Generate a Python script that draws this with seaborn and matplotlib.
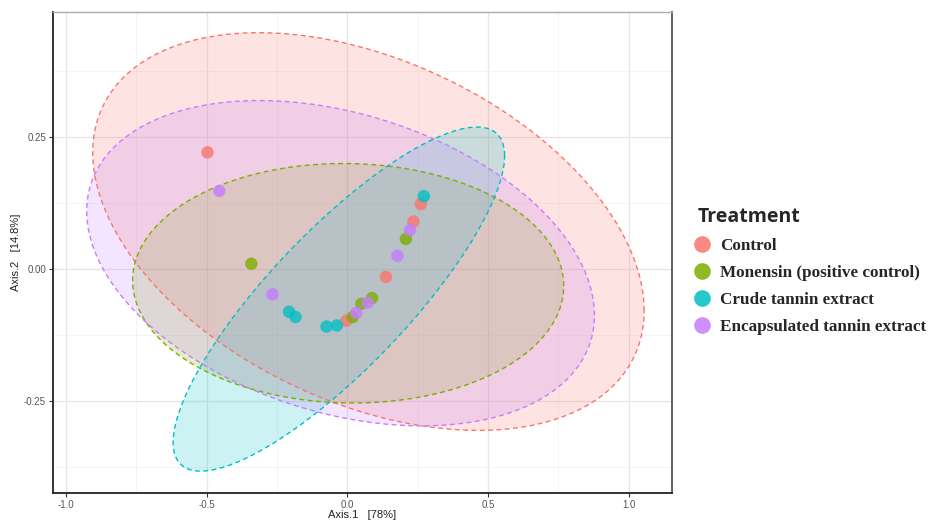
import numpy as np
import pandas as pd
import seaborn as sns
import matplotlib.pyplot as plt
from matplotlib.lines import Line2D
from matplotlib.ticker import MultipleLocator, FormatStrFormatter

# DATA
groups = ['Control', 'Monensin (positive control)', 'Crude tannin extract', 'Encapsulated tannin extract']
colors = ['#F8766D', '#7CAE00', '#00BFC4', '#C77CFF']

control_x = [-0.497, -0.004, 0.137, 0.235, 0.261]
control_y = [0.221, -0.098, -0.015, 0.090, 0.123]
monensin_x = [-0.341, 0.019, 0.050, 0.088, 0.208]
monensin_y = [0.010, -0.091, -0.066, -0.055, 0.057]
crude_x = [-0.207, -0.184, -0.074, -0.037, 0.272]
crude_y = [-0.081, -0.091, -0.109, -0.107, 0.138]
encap_x = [-0.455, -0.266, 0.032, 0.072, 0.178, 0.223]
encap_y = [0.148, -0.048, -0.083, -0.064, 0.025, 0.074]

# ellipse centres and spread (covariance-like) per group
# order: Control, Monensin, Crude, Encapsulated
ell_cx = [0.075, 0.003, -0.030, -0.024]
ell_cy = [0.071, -0.027, -0.057, 0.011]
ell_sxx = [0.960, 0.587, 0.347, 0.814]
ell_syy = [0.142, 0.0515, 0.1063, 0.095]
ell_sxy = [-0.147, -0.004, 0.160, -0.089]

xs = [control_x, monensin_x, crude_x, encap_x]
ys = [control_y, monensin_y, crude_y, encap_y]
df = pd.DataFrame({
    'Axis.1': np.concatenate(xs),
    'Axis.2': np.concatenate(ys),
    'Treatment': np.repeat(groups, [len(v) for v in xs]),
})

sns.set_style('white')
plt.rcParams['font.family'] = ['Liberation Sans', 'DejaVu Sans']
fig = plt.figure(figsize=(9.33, 5.22), dpi=100)
ax = fig.add_axes([0.0568, 0.055, 0.6632, 0.922])

# ellipses
t = np.linspace(0, 2 * np.pi, 300)
for i, c in enumerate(colors):
    S = np.array([[ell_sxx[i], ell_sxy[i]], [ell_sxy[i], ell_syy[i]]])
    L = np.linalg.cholesky(S)
    pts = (L @ np.vstack([np.cos(t), np.sin(t)])).T + [ell_cx[i], ell_cy[i]]
    ax.fill(pts[:, 0], pts[:, 1], color=c, alpha=0.2, lw=0, zorder=1)
    ax.plot(pts[:, 0], pts[:, 1], color=c, lw=1.0, ls=(0, (3.5, 2.5)), zorder=2)

sns.scatterplot(data=df, x='Axis.1', y='Axis.2', hue='Treatment', hue_order=groups,
                palette=colors, s=80, alpha=0.8, edgecolor='none', legend=False,
                ax=ax, zorder=3)

ax.set_xlim(-1.046, 1.153)
ax.set_ylim(-0.425, 0.487)
ax.xaxis.set_major_locator(MultipleLocator(0.5))
ax.xaxis.set_minor_locator(MultipleLocator(0.25))
ax.yaxis.set_major_locator(MultipleLocator(0.25))
ax.yaxis.set_minor_locator(MultipleLocator(0.125))
ax.xaxis.set_major_formatter(FormatStrFormatter('%.1f'))
ax.yaxis.set_major_formatter(FormatStrFormatter('%.2f'))
ax.grid(which='major', color='#E6E6E6', lw=0.9, zorder=0)
ax.grid(which='minor', color='#F2F2F2', lw=0.6, zorder=0)
ax.set_axisbelow(True)
ax.tick_params(which='major', length=3, width=0.8, color='#333333', labelsize=7,
               labelcolor='#555555', direction='out', bottom=True, left=True, pad=2)
ax.tick_params(which='minor', length=0)
for side in ['left', 'bottom']:
    ax.spines[side].set_color('#222222')
    ax.spines[side].set_linewidth(1.3)
ax.spines['top'].set_color('#aaaaaa')
ax.spines['right'].set_color('#555555')
ax.spines['top'].set_linewidth(1.0)
ax.spines['right'].set_linewidth(1.3)

ax.set_xlabel('Axis.1   [78%]', fontsize=8, color='#222222', labelpad=0)
ax.set_ylabel('Axis.2   [14.8%]', fontsize=8, color='#222222', labelpad=2)

handles = [Line2D([], [], marker='o', ls='none', markersize=12, markerfacecolor=c,
                  markeredgecolor='none', alpha=0.85) for c in colors]
leg = fig.legend(handles, groups, loc='upper left', bbox_to_anchor=(0.7475, 0.604),
                 frameon=False, title='Treatment', alignment='left', borderaxespad=0,
                 handletextpad=0.8, labelspacing=0.65, borderpad=0, handlelength=0.5,
                 prop={'family': 'Liberation Serif', 'weight': 'bold', 'size': 12.3})
leg.get_title().set_fontproperties({'family': 'Open Sans', 'weight': 'bold', 'size': 14})

fig.savefig('out.png', dpi=100)
